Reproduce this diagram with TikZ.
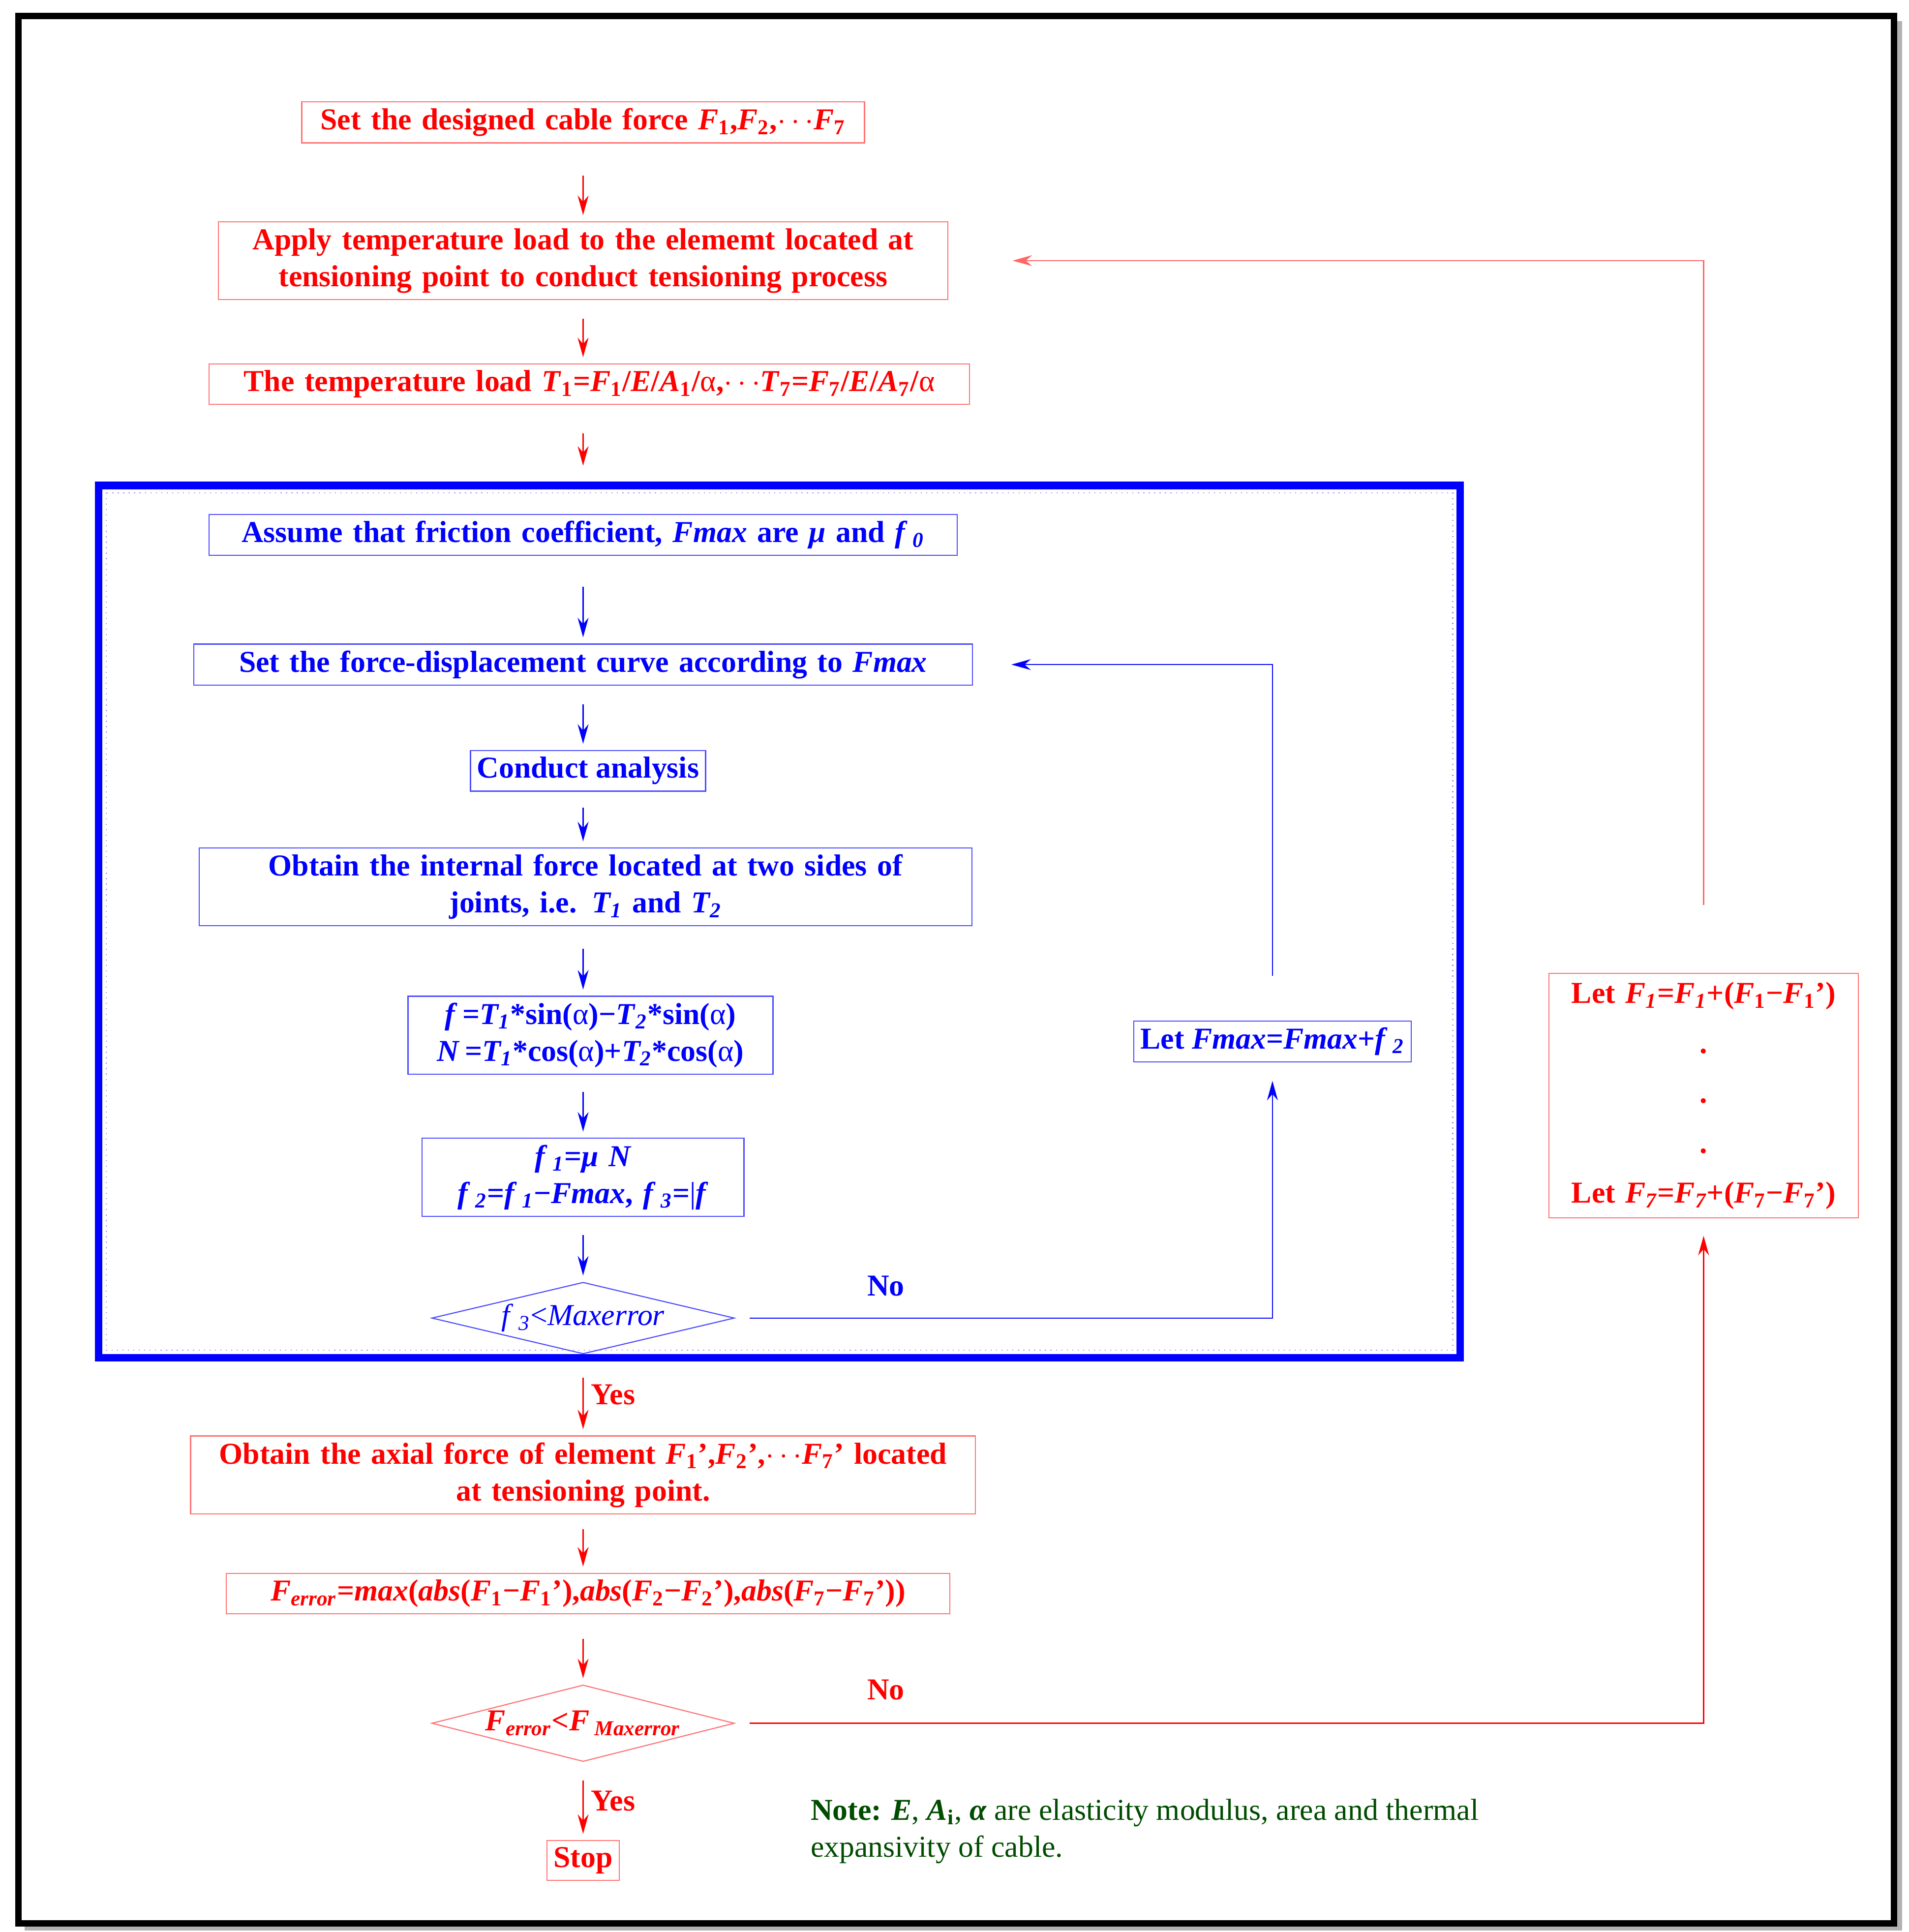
\documentclass[tikz,border=0pt]{standalone}
\usepackage{fontspec}
\setmainfont{Liberation Serif}
\usetikzlibrary{arrows.meta,positioning,shapes.geometric}
\newcommand{\iv}[1]{\textit{#1}}
\newcommand{\sub}[1]{\textsubscript{#1}}
\newcommand{\fs}{\fontsize{14}{17}\selectfont}
\tikzset{
  rbox/.style={draw=red!55, line width=0.5pt, text=red, font=\fs\bfseries, align=center, inner sep=3pt},
  bbox/.style={draw=blue!70, line width=0.5pt, text=blue, font=\fs\bfseries, align=center, inner sep=3pt},
  flow/.style={-{Stealth[length=9pt,width=5pt]}, line width=0.8pt, shorten >=0.1cm},
  back/.style={-{Stealth[length=9pt,width=5pt]}, line width=0.5pt}
}
\begin{document}
\begin{tikzpicture}[x=0.02cm, y=-0.02cm, font=\fs]
  \useasboundingbox (0,0) rectangle (1545,1564);
  % frames
  \draw[gray!60, line width=3pt] (20,1560) -- (1537,1560) -- (1537,17);
  \draw[black, line width=3pt] (15,13) rectangle (1533,1557);
  \draw[blue, line width=0.12cm] (80,393) rectangle (1182,1099);
  \draw[blue!40, dotted, line width=0.5pt] (86,399) rectangle (1176,1093);

  % first part
  \node[rbox, text width=8.9cm] (setF) at (472,99) {Set the designed cable force \iv{F}\sub{1},\iv{F}\sub{2},$\cdots$\iv{F}\sub{7}};
  \node[rbox, text width=11.6cm] (apply) at (472,211) {Apply temperature load to the elememt located at\\tensioning point to conduct tensioning process};
  \node[rbox, text width=12.1cm] (temp) at (477,311) {The temperature load \iv{T}\sub{1}=\iv{F}\sub{1}/\iv{E}/\iv{A}\sub{1}/\textmd{α},$\cdots$\iv{T}\sub{7}=\iv{F}\sub{7}/\iv{E}/\iv{A}\sub{7}/\textmd{α}};

  % friction loop
  \node[bbox, text width=11.9cm] (assume) at (472,433) {Assume that friction coefficient, \iv{Fmax} are \iv{μ} and \iv{f}\,\sub{\iv{0}}};
  \node[bbox, text width=12.4cm] (curve) at (472,538) {Set the force-displacement curve according to \iv{Fmax}};
  \node[bbox] (analysis) at (476,624) {Conduct analysis};
  \node[bbox, text width=12.3cm] (obtain) at (474,718) {Obtain the internal force located at two sides of\\joints, i.e. \iv{T\sub{1}} and \iv{T\sub{2}}};
  \node[bbox, text width=5.7cm] (fN) at (478,838) {\iv{f}\,=\iv{T\sub{1}}*sin(\textmd{α})−\iv{T}\sub{\iv{2}}*sin(\textmd{α})\\\iv{N}\,=\iv{T\sub{1}}*cos(\textmd{α})+\iv{T\sub{2}}*cos(\textmd{α})};
  \node[bbox, text width=5cm] (fone) at (472,953) {\iv{f}\,\sub{\iv{1}}=\iv{μ N}\\\iv{f}\,\sub{\iv{2}}=\iv{f}\,\sub{\iv{1}}−\iv{Fmax}, \iv{f}\,\sub{\iv{3}}=\textmd{|}\iv{f}};
  \node[diamond, aspect=4.2, draw=blue!70, line width=0.5pt, text=blue, inner sep=0pt, minimum width=4.9cm, minimum height=1.16cm] (check) at (472,1067) {\iv{f}\,\sub{\iv{3}}<\iv{Maxerror}};
  \node[bbox] (letF) at (1030,843) {Let \iv{Fmax}=\iv{Fmax}+\iv{f}\,\sub{\iv{2}}};

  % second part
  \node[rbox, text width=12.5cm] (axial) at (472,1194) {Obtain the axial force of element \iv{F}\sub{1}',\iv{F}\sub{2}',$\cdots$\iv{F}\sub{7}' located\\at tensioning point.};
  \node[rbox, text width=11.5cm] (err) at (476,1290) {\iv{F}\sub{\iv{error}}=\iv{max}(\iv{abs}(\iv{F}\sub{1}−\iv{F}\sub{1}'),\iv{abs}(\iv{F}\sub{2}−\iv{F}\sub{2}'),\iv{abs}(\iv{F}\sub{7}−\iv{F}\sub{7}'))};
  \node[diamond, aspect=4, draw=red!55, line width=0.5pt, text=red, font=\fs\bfseries, inner sep=0pt, minimum width=4.9cm, minimum height=1.24cm] (errcheck) at (472,1395) {\iv{F}\sub{\iv{error}}<\iv{F}\,\sub{\iv{Maxerror}}};
  \node[rbox] (stop) at (472,1506) {Stop};
  \node[rbox, text width=4.8cm, minimum height=3.96cm] (update) at (1379,887) {Let \iv{F\sub{1}}=\iv{F\sub{1}}+(\iv{F}\sub{1}−\iv{F}\sub{1}')\\[6pt].\\[6pt].\\[6pt].\\[6pt]Let \iv{F\sub{7}}=\iv{F\sub{7}}+(\iv{F}\sub{7}−\iv{F}\sub{7}')};
  \node[text=green!30!black, align=left, anchor=north west] (note) at (650,1450) {\textbf{Note:} \textbf{\iv{E}}, \textbf{\iv{A}\sub{i}}, \textbf{\iv{α}} are elasticity modulus, area and thermal\\expansivity of cable.};

  % main flow
  \draw[flow, red, shorten <=0.52cm] (setF.south) -- (setF.south |- apply.north);
  \draw[flow, red, shorten <=0.3cm] (apply.south) -- (apply.south |- temp.north);
  \draw[flow, red, shorten <=0.46cm, shorten >=0.78cm] (temp.south -| setF.south) -- (setF.south |- assume.north);
  \draw[flow, blue, shorten <=0.5cm] (assume.south) -- (assume.south |- curve.north);
  \draw[flow, blue, shorten <=0.3cm] (curve.south) -- (curve.south |- analysis.north);
  \draw[flow, blue, shorten <=0.26cm] (analysis.south -| curve.south) -- (curve.south |- obtain.north);
  \draw[flow, blue, shorten <=0.36cm] (obtain.south -| curve.south) -- (curve.south |- fN.north);
  \draw[flow, blue, shorten <=0.28cm] (fN.south -| curve.south) -- (curve.south |- fone.north);
  \draw[flow, blue, shorten <=0.3cm] (fone.south) -- (check.north);
  \draw[flow, red, shorten <=0.38cm] (check.south) -- node[right, font=\fs\bfseries, text=red] {Yes} (axial.north);
  \draw[flow, red, shorten <=0.24cm] (axial.south) -- (err.north -| axial.south);
  \draw[flow, red, shorten <=0.4cm] (err.south -| axial.south) -- (errcheck.north);
  \draw[flow, red, shorten <=0.3cm] (errcheck.south) -- node[right, font=\fs\bfseries, text=red] {Yes} (stop.north);

  % loops
  \draw[back, blue, shorten <=0.24cm, shorten >=0.3cm] (check.east) -| (letF.south);
  \draw[back, blue, shorten <=0.72cm, shorten >=0.62cm] (letF.north) |- (curve.east);
  \draw[back, red, shorten <=0.24cm, shorten >=0.28cm] (errcheck.east) -| (update.south);
  \draw[back, red!60, shorten <=1.1cm, shorten >=1.04cm] (update.north) |- (apply.east);
  \node[text=blue, font=\fs\bfseries] (noA) at (717,1041) {No};
  \node[text=red, font=\fs\bfseries] (noB) at (717,1368) {No};
\end{tikzpicture}
\end{document}
